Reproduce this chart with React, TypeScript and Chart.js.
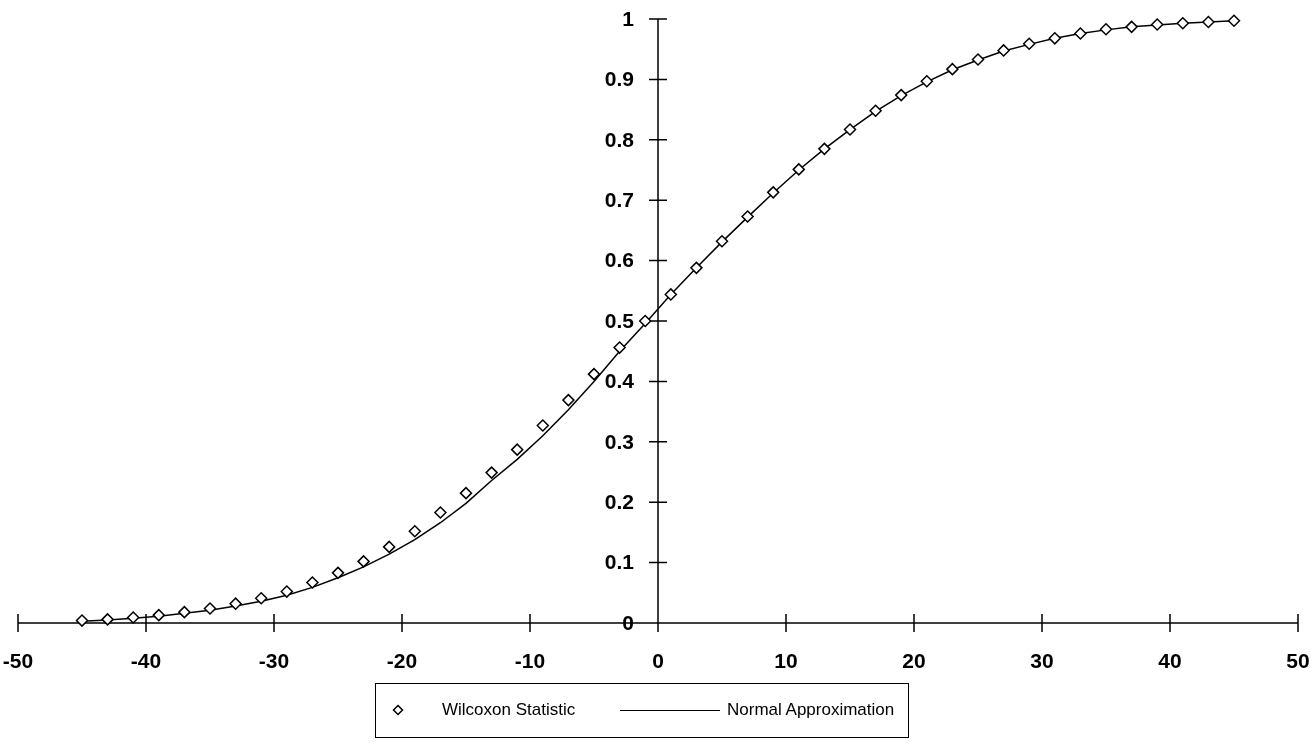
import React, { useEffect, useRef } from "react";
import { Chart, registerables } from "chart.js";

Chart.register(...registerables);

const xValues = [
  -45, -43, -41, -39, -37, -35, -33, -31, -29, -27, -25, -23, -21, -19, -17, -15,
  -13, -11, -9, -7, -5, -3, -1, 1, 3, 5, 7, 9, 11, 13, 15, 17, 19, 21, 23, 25, 27,
  29, 31, 33, 35, 37, 39, 41, 43, 45,
];

const wilcoxonValues = [
  0.004, 0.006, 0.009, 0.013, 0.018, 0.024, 0.032, 0.041, 0.052, 0.067, 0.083, 0.102,
  0.126, 0.152, 0.183, 0.215, 0.249, 0.287, 0.327, 0.369, 0.412, 0.456, 0.5, 0.544,
  0.588, 0.632, 0.673, 0.713, 0.751, 0.785, 0.817, 0.848, 0.874, 0.897, 0.917, 0.933,
  0.948, 0.959, 0.968, 0.976, 0.983, 0.987, 0.991, 0.993, 0.995, 0.997,
];

const normalValues = [
  0.003, 0.005, 0.008, 0.011, 0.016, 0.021, 0.028, 0.036, 0.046, 0.059, 0.075, 0.093,
  0.114, 0.138, 0.166, 0.198, 0.236, 0.271, 0.31, 0.353, 0.4, 0.45, 0.496, 0.544,
  0.588, 0.631, 0.672, 0.712, 0.75, 0.785, 0.817, 0.847, 0.873, 0.896, 0.916, 0.932,
  0.947, 0.958, 0.968, 0.976, 0.982, 0.987, 0.99, 0.993, 0.995, 0.997,
];

const xTickValues = [-50, -40, -30, -20, -10, 0, 10, 20, 30, 40, 50];
const xTickLabels = ["-50", "-40", "-30", "-20", "-10", "0", "10", "20", "30", "40", "50"];
const yTickValues = [0, 0.1, 0.2, 0.3, 0.4, 0.5, 0.6, 0.7, 0.8, 0.9, 1];
const yTickLabels = ["0", "0.1", "0.2", "0.3", "0.4", "0.5", "0.6", "0.7", "0.8", "0.9", "1"];

const seriesNames = ["Wilcoxon Statistic", "Normal Approximation"];

const FONT = "'Liberation Sans', Arial, sans-serif";

const crossAxesPlugin = {
  id: "crossAxes",
  beforeDatasetsDraw(chart: any) {
    const { ctx } = chart;
    const xs = chart.scales.x;
    const ys = chart.scales.y;
    const x0 = xs.getPixelForValue(0);
    const y0 = ys.getPixelForValue(0);
    ctx.save();
    ctx.strokeStyle = "#000";
    ctx.lineWidth = 1.5;
    ctx.beginPath();
    ctx.moveTo(xs.getPixelForValue(xTickValues[0]), y0);
    ctx.lineTo(xs.getPixelForValue(xTickValues[xTickValues.length - 1]), y0);
    ctx.moveTo(x0, y0);
    ctx.lineTo(x0, ys.getPixelForValue(yTickValues[yTickValues.length - 1]));
    xTickValues.forEach((v) => {
      const px = xs.getPixelForValue(v);
      ctx.moveTo(px, y0 - 9);
      ctx.lineTo(px, y0 + 9);
    });
    yTickValues.forEach((v) => {
      if (v === 0) return;
      const py = ys.getPixelForValue(v);
      ctx.moveTo(x0 - 9, py);
      ctx.lineTo(x0 + 9, py);
    });
    ctx.stroke();

    ctx.fillStyle = "#000";
    ctx.font = `bold 21px ${FONT}`;
    ctx.textAlign = "center";
    ctx.textBaseline = "middle";
    xTickValues.forEach((v, i) => {
      ctx.fillText(xTickLabels[i], xs.getPixelForValue(v), y0 + 39);
    });
    ctx.textAlign = "right";
    yTickValues.forEach((v, i) => {
      ctx.fillText(yTickLabels[i], x0 - 24, ys.getPixelForValue(v) + 1);
    });
    ctx.restore();
  },
};

export default function App() {
  const canvasRef = useRef<HTMLCanvasElement | null>(null);

  useEffect(() => {
    if (!canvasRef.current) return;
    const chart = new Chart(canvasRef.current, {
      type: "scatter",
      data: {
        datasets: [
          {
            label: seriesNames[0],
            data: xValues.map((x, i) => ({ x, y: wilcoxonValues[i] })),
            showLine: false,
            pointStyle: "rectRot",
            pointRadius: 5.5,
            pointBorderWidth: 1.5,
            pointBackgroundColor: "#ffffff",
            pointBorderColor: "#000000",
            clip: false,
            order: 0,
          },
          {
            label: seriesNames[1],
            data: xValues.map((x, i) => ({ x, y: normalValues[i] })),
            showLine: true,
            borderColor: "#000000",
            borderWidth: 1.5,
            pointRadius: 0,
            tension: 0,
            clip: false,
            order: 1,
          },
        ],
      },
      options: {
        responsive: false,
        animation: false,
        layout: { padding: { left: 18, right: 18, top: 19, bottom: 127 } },
        plugins: {
          legend: { display: false },
          tooltip: { enabled: false },
        },
        scales: {
          x: { type: "linear", min: -50, max: 50, display: false },
          y: { type: "linear", min: 0, max: 1, display: false },
        },
      },
      plugins: [crossAxesPlugin],
    });
    return () => chart.destroy();
  }, []);

  return (
    <div style={{ position: "absolute", left: 0, top: 0, width: 1316, height: 750, background: "#fff" }}>
      <canvas ref={canvasRef} width={1316} height={750} style={{ width: 1316, height: 750, display: "block" }} />
      <div
        style={{
          position: "absolute",
          left: 375,
          top: 683,
          width: 534,
          height: 55,
          border: "1.5px solid #000",
          boxSizing: "border-box",
          fontFamily: FONT,
          fontSize: 17,
          color: "#000",
        }}
      >
        <svg width={12} height={12} style={{ position: "absolute", left: 16, top: 20 }}>
          <polygon points="6,1.5 10.5,6 6,10.5 1.5,6" fill="#fff" stroke="#000" strokeWidth={1.5} />
        </svg>
        <span style={{ position: "absolute", left: 66, top: 16, whiteSpace: "nowrap" }}>{seriesNames[0]}</span>
        <div style={{ position: "absolute", left: 244, top: 26, width: 100, borderTop: "1.5px solid #000" }} />
        <span style={{ position: "absolute", left: 351, top: 16, whiteSpace: "nowrap" }}>{seriesNames[1]}</span>
      </div>
    </div>
  );
}
